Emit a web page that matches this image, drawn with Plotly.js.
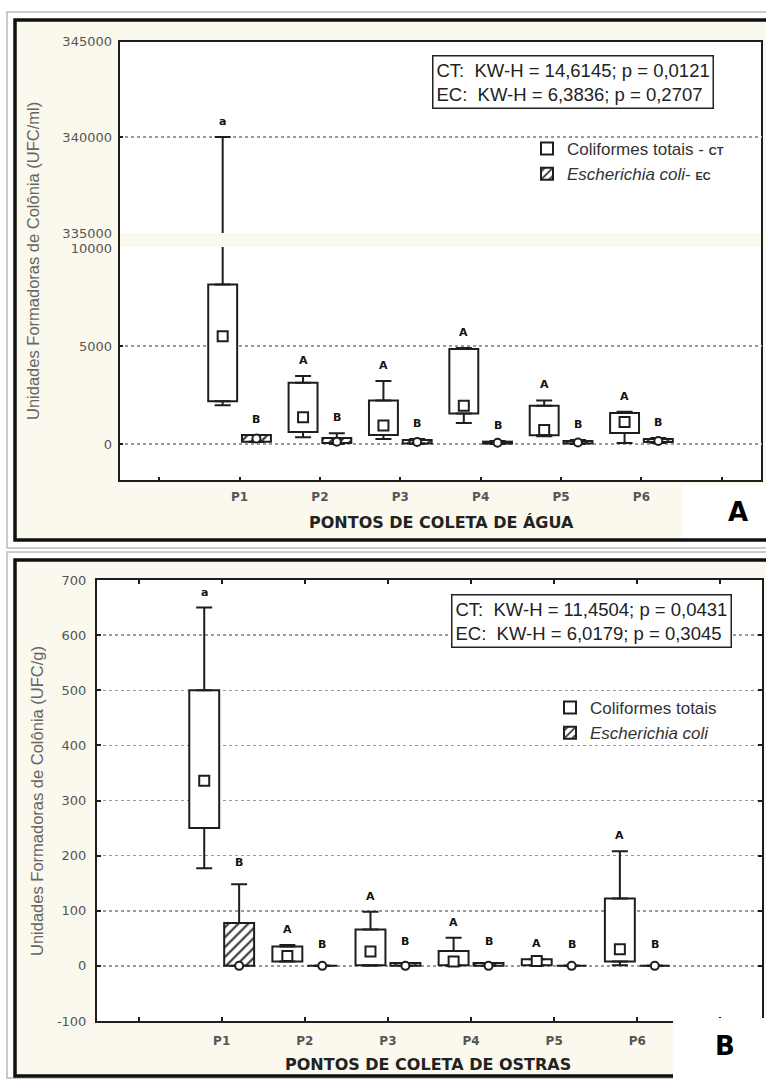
<!DOCTYPE html>
<html>
<head>
<meta charset="utf-8">
<script src="https://cdn.plot.ly/plotly-3.0.1.min.js"></script>
<style>html,body{margin:0;padding:0;background:#fff;}#chart{width:766px;height:1079px;}</style>
</head>
<body>
<div id="chart"></div>
<script>
// ---------- DATA ----------
const categories = ['P1', 'P2', 'P3', 'P4', 'P5', 'P6'];

// Panel A – água (UFC/ml): Coliformes totais (CT)
const aguaCT_min = [1980, 340, 255, 1070, 400, 50];
const aguaCT_q1  = [2180, 610, 460, 1560, 450, 560];
const aguaCT_med = [5500, 1370, 950, 1950, 720, 1120];
const aguaCT_q3  = [8140, 3130, 2220, 4850, 1950, 1580];
const aguaCT_max = [340000, 3470, 3210, 4900, 2220, 1650];
// Panel A – água: Escherichia coli (EC)
const aguaEC_min = [100, 0, 0, 0, 0, 50];
const aguaEC_q1  = [120, 50, 30, 20, 30, 100];
const aguaEC_med = [280, 120, 100, 60, 80, 150];
const aguaEC_q3  = [460, 300, 200, 120, 150, 250];
const aguaEC_max = [460, 550, 250, 150, 200, 300];

// Panel B – ostras (UFC/g): CT
const ostrasCT_min = [177, 8, 0, 0, 1, 1];
const ostrasCT_q1  = [250, 8, 1, 1, 1, 8];
const ostrasCT_med = [336, 18, 26, 8, 9, 30];
const ostrasCT_q3  = [500, 35, 66, 27, 12, 122];
const ostrasCT_max = [650, 38, 98, 51, 12, 208];
// Panel B – ostras: EC
const ostrasEC_min = [0, 0, 0, 0, 0, 0];
const ostrasEC_q1  = [0, 0, 0, 0, 0, 0];
const ostrasEC_med = [0, 0, 0, 0, 0, 0];
const ostrasEC_q3  = [78, 0, 5, 5, 0, 0];
const ostrasEC_max = [148, 0, 5, 5, 0, 0];

// group letters
const aguaCT_letters   = ['a', 'A', 'A', 'A', 'A', 'A'];
const aguaEC_letters   = ['B', 'B', 'B', 'B', 'B', 'B'];
const ostrasCT_letters = ['a', 'A', 'A', 'A', 'A', 'A'];
const ostrasEC_letters = ['B', 'B', 'B', 'B', 'B', 'B'];

// tick labels
const aguaLowerTicks = [0, 5000, 10000];
const aguaLowerTickText = ['0', '5000', '10000'];
const aguaUpperTicks = [335000, 340000, 345000];
const aguaUpperTickText = ['335000', '340000', '345000'];
const aguaUpperGrid = [340000];
const ostrasTicks = [-100, 0, 100, 200, 300, 400, 500, 600, 700];
const ostrasTickText = ['-100', '0', '100', '200', '300', '400', '500', '600', '700'];

// texts
const aguaStats = ['CT:\u00a0\u00a0KW-H = 14,6145; p = 0,0121', 'EC:\u00a0\u00a0KW-H = 6,3836; p = 0,2707'];
const ostrasStats = ['CT:\u00a0\u00a0KW-H = 11,4504; p = 0,0431', 'EC:\u00a0\u00a0KW-H = 6,0179; p = 0,3045'];
const aguaNames = ['Coliformes totais - <b><span style="font-size:11px">CT</span></b>', '<i>Escherichia coli</i>- <b><span style="font-size:11px">EC</span></b>'];
const ostrasNames = ['Coliformes totais', '<i>Escherichia coli</i>'];
const aguaYTitle = 'Unidades Formadoras de Colônia (UFC/ml)';
const ostrasYTitle = 'Unidades Formadoras de Colônia (UFC/g)';
const aguaXTitle = 'PONTOS DE COLETA DE ÁGUA';
const ostrasXTitle = 'PONTOS DE COLETA DE OSTRAS';
const AGUA_BREAK = 335000;

// ---------- STYLE ----------
const W = 766, H = 1079;
const px = v => v / W;
const py = v => 1 - v / H;
const INK = '#1e1e1e';
const OFF = 0.21, BW = 0.36;
const CREAM = '#fbf9ee';

const tickIdx = [0, 1, 2, 3, 4, 5, 6, 7];
const tickTxt = ['', ...categories, ''];

function series(min, q1, med, q3, max) { return {min, q1, med, q3, max}; }

function boxTraces(s, side, xa, ya, name, legendId, showLeg, isEC) {
  const idx = categories.map((c, i) => i + 1);
  const pos = idx.map(v => v + side * OFF);
  const marker = {color: 'white', line: {color: INK, width: 2}};
  if (isEC) marker.pattern = {shape: '/', fgcolor: '#333', bgcolor: 'white', size: 7, solidity: 0.3};
  const t = [];
  t.push({type: 'bar', x: idx, base: s.q1, y: s.q3.map((v, i) => v - s.q1[i]),
    offset: side * OFF - BW / 2, width: BW, xaxis: xa, yaxis: ya,
    name: name, legend: legendId, showlegend: showLeg, marker: marker, hoverinfo: 'skip'});
  t.push({type: 'scatter', mode: 'markers', x: pos, y: s.q3, xaxis: xa, yaxis: ya, showlegend: false,
    marker: {size: 1, color: 'rgba(0,0,0,0)'}, hoverinfo: 'skip',
    error_y: {type: 'data', symmetric: false, array: s.max.map((v, i) => v - s.q3[i]),
      arrayminus: s.q3.map(() => 0), color: INK, thickness: 2, width: 8}});
  t.push({type: 'scatter', mode: 'markers', x: pos, y: s.q1, xaxis: xa, yaxis: ya, showlegend: false,
    marker: {size: 1, color: 'rgba(0,0,0,0)'}, hoverinfo: 'skip',
    error_y: {type: 'data', symmetric: false, array: s.q1.map(() => 0),
      arrayminus: s.q1.map((v, i) => v - s.min[i]), color: INK, thickness: 2, width: 8}});
  t.push({type: 'scatter', mode: 'markers', x: pos, y: s.med, xaxis: xa, yaxis: ya, showlegend: false,
    hoverinfo: 'skip',
    marker: {symbol: isEC ? 'circle' : 'square', size: isEC ? 8 : 10, color: 'white', line: {color: INK, width: 2}}});
  return t;
}

const aguaCT = series(aguaCT_min, aguaCT_q1, aguaCT_med, aguaCT_q3, aguaCT_max);
const aguaEC = series(aguaEC_min, aguaEC_q1, aguaEC_med, aguaEC_q3, aguaEC_max);
const ostrasCT = series(ostrasCT_min, ostrasCT_q1, ostrasCT_med, ostrasCT_q3, ostrasCT_max);
const ostrasEC = series(ostrasEC_min, ostrasEC_q1, ostrasEC_med, ostrasEC_q3, ostrasEC_max);

const data = [
  ...boxTraces(aguaCT, -1, 'x', 'y', aguaNames[0], 'legend', true, false),
  ...boxTraces(aguaEC, 1, 'x', 'y', aguaNames[1], 'legend', true, true),
  ...boxTraces(aguaCT, -1, 'x', 'y2', aguaNames[0], 'legend', false, false),
  ...boxTraces(aguaEC, 1, 'x', 'y2', aguaNames[1], 'legend', false, true),
  ...boxTraces(ostrasCT, -1, 'x2', 'y3', ostrasNames[0], 'legend2', true, false),
  ...boxTraces(ostrasEC, 1, 'x2', 'y3', ostrasNames[1], 'legend2', true, true)
];

// ---------- ANNOTATIONS ----------
const ann = [];
function letters(s, lets, side, xa, yFor, shift) {
  lets.forEach((L, i) => {
    ann.push({x: i + 1 + side * OFF, y: s.max[i], xref: xa, yref: yFor(s.max[i]), text: L, showarrow: false,
      xanchor: 'center', yanchor: 'bottom', yshift: shift, font: {family: 'DejaVu Sans', size: 11, weight: 'bold', color: '#111'}});
  });
}
letters(aguaCT, aguaCT_letters, -1, 'x', v => v > AGUA_BREAK ? 'y2' : 'y', 7);
letters(aguaEC, aguaEC_letters, 1, 'x', v => v > AGUA_BREAK ? 'y2' : 'y', 7);
letters(ostrasCT, ostrasCT_letters, -1, 'x2', () => 'y3', 7);
letters(ostrasEC, ostrasEC_letters, 1, 'x2', () => 'y3', 13);

function paperText(x, y, text, font, extra) {
  ann.push(Object.assign({xref: 'paper', yref: 'paper', x: px(x), y: py(y), text: text, showarrow: false,
    xanchor: 'center', yanchor: 'middle', font: font}, extra || {}));
}

const statFont = {family: 'Liberation Sans, Arial', size: 18.5, color: '#222'};
const statBox = {align: 'left', bordercolor: '#222', borderwidth: 1.5, borderpad: 3, bgcolor: 'white'};
paperText(573, 82, aguaStats.join('<br>'), statFont, statBox);
paperText(591, 621, ostrasStats.join('<br>'), statFont, statBox);

const ytFont = {family: 'Liberation Sans, Arial', size: 16.5, color: '#666'};
paperText(33, 261, aguaYTitle, ytFont, {textangle: -90});
paperText(37, 801, ostrasYTitle, ytFont, {textangle: -90});

const xtFont = {family: 'DejaVu Sans', size: 16, weight: 'bold', color: '#222'};
paperText(441, 522, aguaXTitle, xtFont);
paperText(428, 1064, ostrasXTitle, xtFont);

const panelFont = {family: 'DejaVu Sans', size: 26, weight: 'bold', color: '#000'};
paperText(738, 512, 'A', panelFont);
paperText(725, 1046, 'B', panelFont);

// ---------- SHAPES (frames / backgrounds) ----------
function rect(x0, y0, x1, y1, o) {
  return Object.assign({type: 'rect', xref: 'paper', yref: 'paper', x0: px(x0), x1: px(x1), y0: py(y1), y1: py(y0), layer: 'below'}, o);
}
const shapes = [
  rect(7, 12, 775, 548, {line: {color: '#bbb', width: 1.5}, fillcolor: 'white'}),
  rect(15, 20, 775, 540, {line: {color: '#111', width: 3.5}, fillcolor: CREAM}),
  rect(119, 41, 762, 233, {line: {width: 0}, fillcolor: 'white'}),
  rect(119, 247, 762, 481, {line: {width: 0}, fillcolor: 'white'}),
  rect(119, 41, 762, 481, {line: {color: INK, width: 2}}),
  rect(7, 552, 775, 1078, {line: {color: '#bbb', width: 1.5}, fillcolor: 'white'}),
  rect(15, 560, 775, 1076, {line: {color: '#111', width: 3.5}, fillcolor: CREAM}),
  rect(97, 580, 762, 1021, {line: {width: 0}, fillcolor: 'white'}),
  rect(682, 485, 775, 538, {line: {width: 0}, fillcolor: 'white', layer: 'above'}),
  rect(673, 1018, 775, 1085, {line: {width: 0}, fillcolor: 'white', layer: 'above'})
];

// ---------- AXES ----------
const tickFontY = {family: 'DejaVu Sans', size: 13, color: '#555'};
const tickFontX = {family: 'DejaVu Sans', size: 12, weight: 'bold', color: '#555'};
const gridStyle = {showgrid: true, gridcolor: '#9a9a9a', gridwidth: 1.5, griddash: 'dot'};
const baseX = {range: [-0.5, 7.5], tickmode: 'array', tickvals: tickIdx, ticktext: tickTxt, ticks: 'inside',
  ticklen: 4, tickwidth: 2, tickcolor: INK, showgrid: false, zeroline: false, tickfont: tickFontX, ticklabelstandoff: 7, fixedrange: true};

const legendFont = {family: 'Liberation Sans, Arial', size: 17, color: '#333'};
const layout = {
  width: W, height: H, autosize: false,
  margin: {l: 0, r: 0, t: 0, b: 0, pad: 0},
  paper_bgcolor: 'white', plot_bgcolor: 'rgba(0,0,0,0)',
  barmode: 'overlay',
  showlegend: true,
  xaxis: Object.assign({}, baseX, {domain: [px(119), px(762)], anchor: 'y', showline: false}),
  xaxis3: {overlaying: 'x', anchor: 'y2', side: 'top', range: [-0.5, 7.5], tickmode: 'array', tickvals: tickIdx,
    ticks: 'inside', ticklen: 4, tickwidth: 2, tickcolor: INK, showticklabels: false, showgrid: false, zeroline: false, showline: false},
  xaxis2: Object.assign({}, baseX, {domain: [px(97), px(762)], anchor: 'y3', showline: true, linecolor: INK, linewidth: 2, mirror: 'ticks', ticklabelstandoff: 8}),
  yaxis: Object.assign({domain: [py(481), py(247)], anchor: 'x', range: [-1888, 10051], tickmode: 'array',
    tickvals: aguaLowerTicks, ticktext: aguaLowerTickText, ticks: 'inside', ticklen: 4, tickwidth: 2, tickcolor: INK,
    zeroline: false, showline: false, tickfont: tickFontY, ticklabelstandoff: 6, fixedrange: true}, gridStyle),
  yaxis2: {domain: [py(233), py(41)], anchor: 'x', range: [335000, 345000], tickmode: 'array',
    tickvals: aguaUpperTicks, ticktext: aguaUpperTickText, ticks: 'inside', ticklen: 4, tickwidth: 2, tickcolor: INK,
    zeroline: false, showline: false, showgrid: false, tickfont: tickFontY, ticklabelstandoff: 6, fixedrange: true,
    minor: {tickmode: 'array', tickvals: aguaUpperGrid, ticks: '', showgrid: true, gridcolor: '#9a9a9a', gridwidth: 1.5, griddash: 'dot'}},
  yaxis3: Object.assign({domain: [py(1021), py(580)], anchor: 'x2', range: [-100, 700], tickmode: 'array',
    tickvals: ostrasTicks, ticktext: ostrasTickText, ticks: 'inside', ticklen: 4, tickwidth: 2, tickcolor: INK,
    zeroline: false, showline: true, linecolor: INK, linewidth: 2, mirror: 'ticks', tickfont: tickFontY, ticklabelstandoff: 6, fixedrange: true}, gridStyle),
  legend: {x: px(527), y: py(131), xanchor: 'left', yanchor: 'top', bgcolor: 'rgba(0,0,0,0)', borderwidth: 0,
    font: legendFont, traceorder: 'normal', itemclick: false, tracegroupgap: 0},
  legend2: {x: px(550), y: py(690), xanchor: 'left', yanchor: 'top', bgcolor: 'rgba(0,0,0,0)', borderwidth: 0,
    font: legendFont, traceorder: 'normal', itemclick: false, tracegroupgap: 0},
  shapes: shapes,
  annotations: ann
};

Plotly.newPlot('chart', data, layout, {staticPlot: true, displayModeBar: false});
</script>
</body>
</html>
